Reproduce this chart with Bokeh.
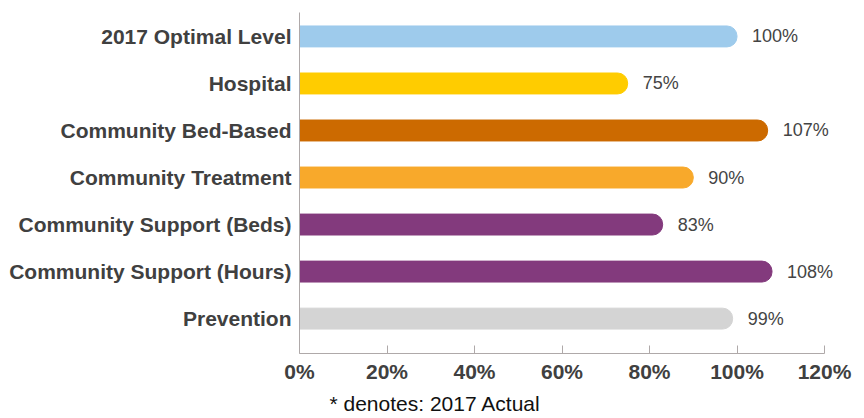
from bokeh.plotting import figure
from bokeh.models import FixedTicker, Range1d, Title, ColumnDataSource
from bokeh.embed import file_html
from bokeh.resources import INLINE
from bokeh.core.properties import value

categories = ["2017 Optimal Level", "Hospital", "Community Bed-Based", "Community Treatment",
              "Community Support (Beds)", "Community Support (Hours)", "Prevention"]
values = [100, 75, 107, 90, 83, 108, 99]
colors = ["#9ECBEC", "#FFCC00", "#CC6A00", "#F8A92B", "#833A7D", "#833A7D", "#D4D4D4"]
x_ticks = [0, 20, 40, 60, 80, 100, 120]
x_tick_labels = ["0%", "20%", "40%", "60%", "80%", "100%", "120%"]
footnote = "* denotes: 2017 Actual"

n = len(categories)
ypos = [n - 1 - i for i in range(n)]
labels = [f"{v}%" for v in values]

src = ColumnDataSource(dict(y=ypos, v=values, c=colors, lab=labels))

p = figure(width=864, height=418, output_backend="svg", toolbar_location=None,
           x_range=Range1d(0, 128), y_range=Range1d(-0.742, n - 1 + 0.509),
           min_border_left=299, min_border_right=5, min_border_top=12, min_border_bottom=64)
p.outline_line_color = None
p.xgrid.visible = False
p.ygrid.visible = False

p.hbar(y="y", left=0, right="v", height=0.445, color="c", source=src,
       border_radius=(0, 10, 10, 0))
p.text(x="v", y="y", text="lab", source=src, x_offset=15,
       text_baseline="middle", text_align="left",
       text_font=value("Liberation Sans"), text_font_size="18px",
       text_color="#444444")

ax = p.xaxis[0]
ax.ticker = FixedTicker(ticks=x_ticks)
ax.bounds = (0, 120)
ax.major_label_overrides = {t: l for t, l in zip(x_ticks, x_tick_labels)}
ax.axis_line_color = "#AFA9A9"
ax.major_tick_line_color = "#AFA9A9"
ax.major_tick_in = 8
ax.major_tick_out = 0
ax.minor_tick_line_color = None
ax.major_label_text_font = "Liberation Sans"
ax.major_label_text_font_style = "bold"
ax.major_label_text_font_size = "21px"
ax.major_label_text_color = "#404040"
ax.major_label_standoff = 6

ay = p.yaxis[0]
ay.ticker = FixedTicker(ticks=ypos)
ay.major_label_overrides = {y: c for y, c in zip(ypos, categories)}
ay.axis_line_color = "#AFA9A9"
ay.major_tick_line_color = None
ay.minor_tick_line_color = None
ay.major_label_text_font = "Liberation Sans"
ay.major_label_text_font_style = "bold"
ay.major_label_text_font_size = "21px"
ay.major_label_text_color = "#404040"
ay.major_label_standoff = 2

t = Title(text=footnote, align="left", offset=30, text_font="Liberation Sans",
          text_font_style="normal", text_font_size="21px", text_color="#111111",
          standoff=8, vertical_align="bottom")
p.add_layout(t, "below")

open("out.html", "w").write(file_html(p, INLINE))
